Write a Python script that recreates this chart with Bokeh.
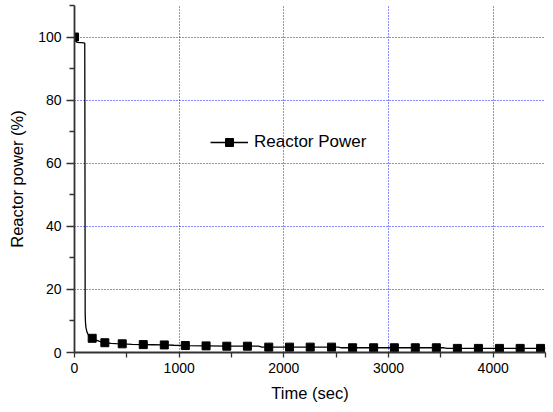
from bokeh.plotting import figure
from bokeh.models import FixedTicker, Range1d, Legend, LegendItem
from bokeh.embed import file_html
from bokeh.resources import INLINE

# Curve data (time in s, reactor power in %)
time_s = [0, 3, 6, 10, 15, 20, 30, 50, 70, 98, 100, 102, 105, 110, 120, 135, 150, 169,
          200, 240, 290, 350, 400, 456, 550, 657, 750, 858, 950, 1059, 1257, 1455,
          1652, 1760, 1790, 1856, 2054, 2252, 2456, 2520, 2550, 2657, 2858, 3056,
          3256, 3457, 3530, 3560, 3658, 3859, 4060, 4258, 4453, 4500]
power_pct = [100, 99.6, 99.2, 98.9, 98.6, 98.4, 98.3, 98.2, 98.2, 98.1, 60, 12, 9.5,
             7.8, 6.4, 5.4, 4.9, 4.5,
             4.0, 3.5, 3.1, 2.9, 2.8, 2.75, 2.6, 2.5, 2.45, 2.4, 2.3, 2.2, 2.1, 2.0,
             2.0, 2.0, 1.7, 1.7, 1.7, 1.7, 1.7, 1.7, 1.5, 1.5, 1.5, 1.5,
             1.5, 1.5, 1.5, 1.3, 1.3, 1.3, 1.3, 1.3, 1.3, 1.3]

# Marker points
marker_time = [0, 169, 290, 456, 657, 858, 1059, 1257, 1455, 1652, 1856, 2054, 2252,
               2456, 2657, 2858, 3056, 3256, 3457, 3658, 3859, 4060, 4258, 4453]
marker_power = [100, 4.5, 3.1, 2.75, 2.5, 2.4, 2.2, 2.1, 2.0, 2.0, 1.7, 1.7, 1.7,
                1.7, 1.5, 1.5, 1.5, 1.5, 1.5, 1.3, 1.3, 1.3, 1.3, 1.3]

x_ticks = [0, 1000, 2000, 3000, 4000]
x_minor = [500, 1500, 2500, 3500, 4500]
y_ticks = [0, 20, 40, 60, 80, 100]
y_minor = [10, 30, 50, 70, 90, 110]

FONT = "Liberation Sans"

p = figure(width=553, height=412, output_backend="svg", toolbar_location=None,
           x_range=Range1d(0, 4500), y_range=Range1d(0, 110),
           min_border_left=74, min_border_right=8, min_border_top=5,
           min_border_bottom=60, x_axis_label="Time (sec)",
           y_axis_label="Reactor power (%)")
p.outline_line_color = None
p.background_fill_color = "white"
p.border_fill_color = "white"

ln = p.line(time_s, power_pct, line_color="black", line_width=1.3)
mk = p.scatter(marker_time, marker_power, marker="square", size=8,
               fill_color="black", line_color="black")

for ax, ticks, minor in ((p.xaxis[0], x_ticks, x_minor), (p.yaxis[0], y_ticks, y_minor)):
    ax.ticker = FixedTicker(ticks=ticks, minor_ticks=minor)
    ax.axis_line_color = "#333333"
    ax.axis_line_width = 1.8
    ax.major_tick_line_color = "#333333"
    ax.minor_tick_line_color = "#333333"
    ax.major_tick_line_width = 1.3
    ax.minor_tick_line_width = 1.3
    ax.major_tick_in = 0
    ax.minor_tick_in = 0
    ax.major_label_text_font = FONT
    ax.major_label_text_font_size = "14px"
    ax.major_label_text_color = "black"
    ax.axis_label_text_font = FONT
    ax.axis_label_text_font_size = "16.5px"
    ax.axis_label_text_font_style = "normal"
    ax.axis_label_text_color = "black"

p.xaxis.major_tick_out = 5
p.xaxis.minor_tick_out = 5
p.xaxis.major_label_standoff = 5
p.xaxis.axis_label_standoff = 8
p.yaxis.major_tick_out = 8
p.yaxis.minor_tick_out = 5
p.yaxis.major_label_standoff = 5
p.yaxis.axis_label_standoff = 9

for g in (p.xgrid[0], p.ygrid[0]):
    g.grid_line_color = "#0000ff"
    g.grid_line_dash = "1 2"
    g.grid_line_width = 1
    g.grid_line_alpha = 0.9
p.xgrid[0].ticker = FixedTicker(ticks=[1000, 2000, 3000, 4000])
p.ygrid[0].ticker = FixedTicker(ticks=[20, 40, 60, 80, 100])

legend = Legend(items=[LegendItem(label="Reactor Power", renderers=[ln, mk])],
                location=(136, 200), padding=0, margin=0, glyph_width=38,
                glyph_height=20, label_standoff=6, border_line_color=None,
                background_fill_alpha=0, label_text_font=FONT,
                label_text_font_size="17px", label_text_color="black")
p.add_layout(legend, "center")

open("out.html", "w").write(file_html(p, INLINE))
